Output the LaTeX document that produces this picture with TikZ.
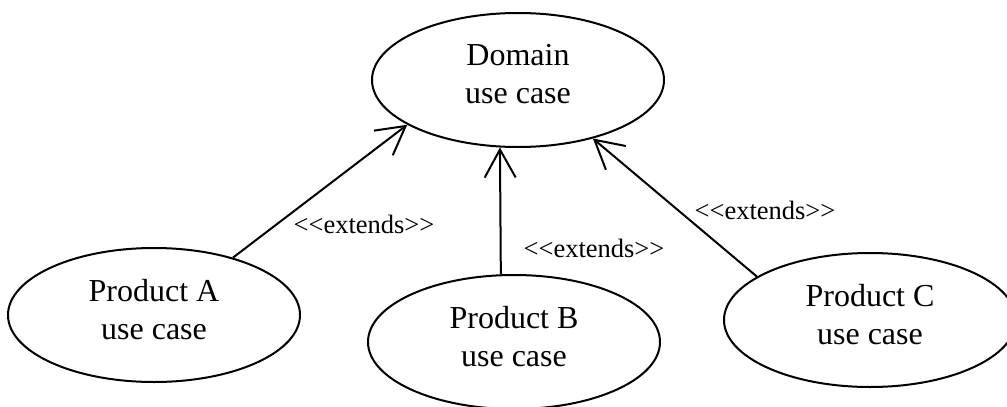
\documentclass[tikz,border=0pt]{standalone}
\usepackage{fontspec}
\setmainfont{Liberation Serif}
\usetikzlibrary{shapes.geometric,arrows.meta}
\begin{document}
\begin{tikzpicture}[x=1pt,y=-1pt,
  usecase/.style={draw, ellipse, line width=2pt, minimum width=292pt, minimum height=134pt,
    inner sep=0pt, align=center, font=\fontsize{32}{38}\selectfont},
  extarrow/.style={-{Straight Barb[length=28pt,width=31pt]}, line width=2pt},
  stereo/.style={anchor=base, inner sep=0pt, font=\fontsize{26.5}{31}\selectfont}]
\useasboundingbox (0,0) rectangle (1007,407);
\clip (0,0) rectangle (1007,407);
\node[usecase] (D) at (518,80) {Domain\\use case\strut};
\node[usecase] (A) at (154,315) {Product A\\use case\strut};
\node[usecase] (B) at (514,342) {Product B\\use case\strut};
\node[usecase] (C) at (870,320) {Product C\\use case\strut};
\draw[extarrow] (A.36) -- (D.202);
\draw[extarrow] (B.101.8) -- (D.255);
\draw[extarrow] (C.159.9) -- (D.322.8);
\node[stereo] (l1) at (364,233) {<{}<extends>{}>};
\node[stereo] (l2) at (594,257) {<{}<extends>{}>};
\node[stereo] (l3) at (765,219) {<{}<extends>{}>};
\end{tikzpicture}
\end{document}
